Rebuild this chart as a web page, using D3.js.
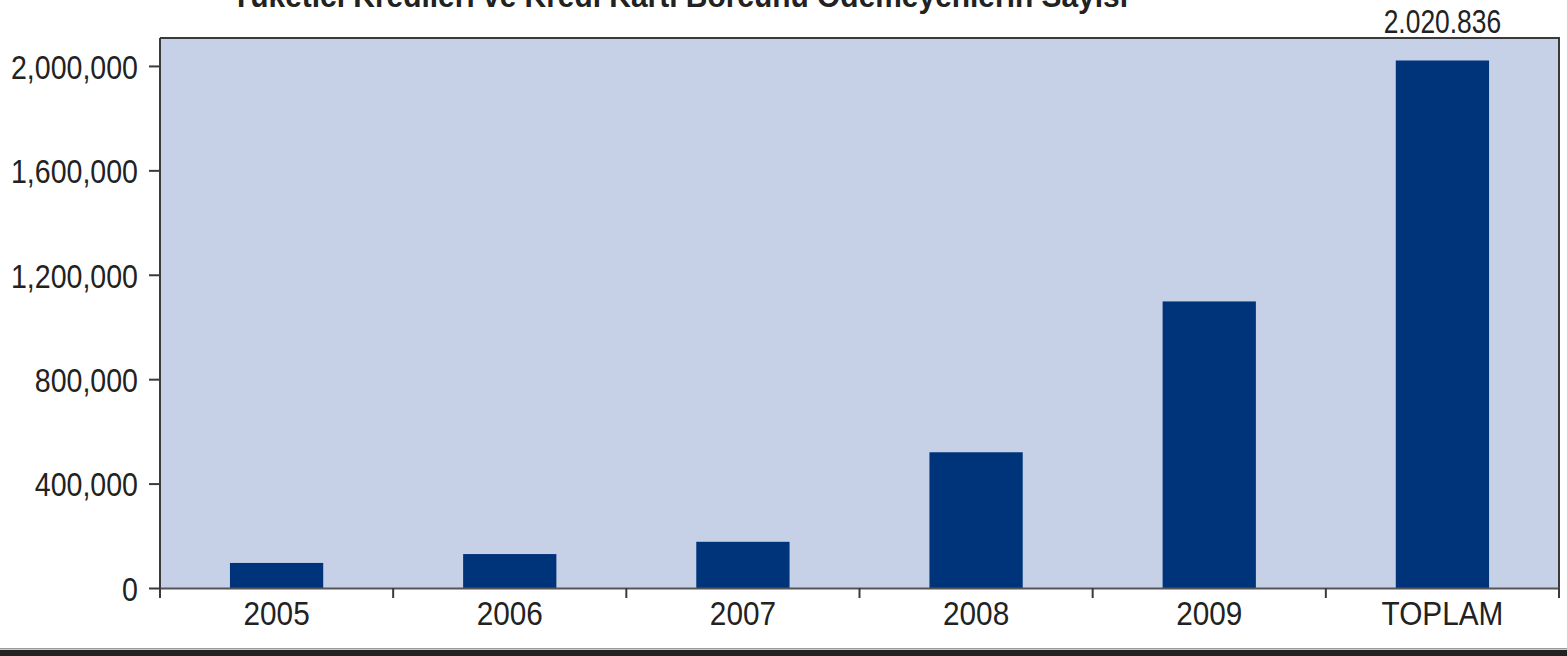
<!DOCTYPE html>
<html>
<head>
<meta charset="utf-8">
<script src="https://cdn.jsdelivr.net/npm/d3@7"></script>
<style>
  html, body { margin: 0; padding: 0; background: #fff; }
  svg { display: block; }
  text { font-family: "Liberation Sans", Arial, sans-serif; fill: #222; }
</style>
</head>
<body>
<svg id="chart" width="1567" height="656"></svg>
<script>
const title = "Tüketici Kredileri ve Kredi Kartı Borcunu Ödemeyenlerin Sayısı";
const categories = ["2005", "2006", "2007", "2008", "2009", "TOPLAM"];
const values = [96000, 130000, 177000, 520000, 1097836, 2020836];
const yTicks = [0, 400000, 800000, 1200000, 1600000, 2000000];
const totalLabel = "2.020.836";

const FONT = "'Liberation Sans', Arial, sans-serif";
const svg = d3.select("#chart");
const pLeft = 160, pRight = 1559, pTop = 38, pBottom = 588;

// condense text horizontally (the reference uses a narrow face)
function condense(sel, f) {
  sel.each(function () {
    const w = this.getComputedTextLength();
    d3.select(this).attr("textLength", w * f).attr("lengthAdjust", "spacingAndGlyphs");
  });
}

const x = d3.scaleBand().domain(categories).range([pLeft, pRight]).paddingInner(0.6).paddingOuter(0.3);
const xOuter = d3.scaleBand().domain(categories).range([pLeft, pRight]).padding(0);
const y = d3.scaleLinear().domain([0, 2107000]).range([pBottom, pTop]);

// plot background
svg.append("rect").attr("x", pLeft).attr("y", pTop).attr("width", pRight - pLeft).attr("height", pBottom - pTop)
  .attr("fill", "#c6d1e7");

// bars
svg.selectAll("rect.bar").data(categories).enter().append("rect").attr("class", "bar")
  .attr("x", d => x(d)).attr("width", x.bandwidth())
  .attr("y", (d, i) => y(values[i])).attr("height", (d, i) => y(0) - y(values[i]))
  .attr("fill", "#00347a");

// frame: top and right
svg.append("path").attr("d", `M${pLeft},${pTop}H${pRight}V${pBottom}`)
  .attr("fill", "none").attr("stroke", "#3a3a3a").attr("stroke-width", 2);

// y axis
const yAxis = d3.axisLeft(y).tickValues(yTicks).tickFormat(d3.format(",")).tickSize(11).tickPadding(11);
const gy = svg.append("g").attr("transform", `translate(${pLeft},0)`).call(yAxis);
gy.select(".domain").attr("stroke", "#3a3a3a").attr("stroke-width", 2).attr("d", `M0,${pTop}V${pBottom + 9}`);
gy.selectAll(".tick line").attr("stroke", "#3a3a3a").attr("stroke-width", 2);
gy.selectAll(".tick text").style("font-size", "34px").style("font-family", FONT)
  .attr("fill", "#222").attr("dy", "0.36em").call(condense, 0.84);

// x axis
const xAxis = d3.axisBottom(xOuter).tickSize(0).tickPadding(13);
const gx = svg.append("g").attr("transform", `translate(0,${pBottom})`).call(xAxis);
gx.select(".domain").attr("stroke", "#555").attr("stroke-width", 2);
gx.selectAll(".tick text").style("font-size", "34px").style("font-family", FONT)
  .attr("fill", "#222").attr("dy", "0.71em").call(condense, 0.875);

// boundary tick marks
const bounds = categories.map(d => xOuter(d)).concat([pRight]);
svg.append("g").selectAll("line").data(bounds).enter().append("line")
  .attr("x1", d => d).attr("x2", d => d).attr("y1", pBottom).attr("y2", pBottom + 10)
  .attr("stroke", "#3a3a3a").attr("stroke-width", 2);

// total label
const last = categories[categories.length - 1];
svg.append("text").attr("x", x(last) + x.bandwidth() / 2).attr("y", 33)
  .attr("text-anchor", "middle").style("font-size", "33px").style("font-family", FONT)
  .text(totalLabel).call(condense, 0.8);

// title
svg.append("text").attr("x", 680).attr("y", 7).attr("text-anchor", "middle")
  .attr("textLength", 896).attr("lengthAdjust", "spacingAndGlyphs")
  .style("font-size", "31px").style("font-weight", "bold").style("font-family", FONT)
  .attr("fill", "#111").text(title);

// bottom border
svg.append("rect").attr("x", 0).attr("y", 648).attr("width", 1567).attr("height", 1.5).attr("fill", "#999");
svg.append("rect").attr("x", 0).attr("y", 650).attr("width", 1567).attr("height", 6).attr("fill", "#222");
</script>
</body>
</html>
